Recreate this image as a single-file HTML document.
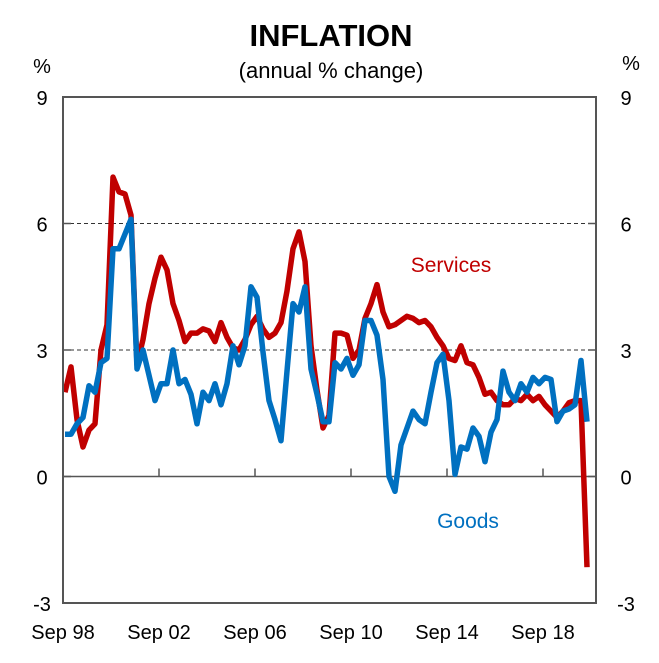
<!DOCTYPE html>
<html><head><meta charset="utf-8"><style>
body{margin:0;background:#fff;}
svg text{font-family:"Liberation Sans",Arial,sans-serif;}
</style></head><body>
<svg id="c" width="659" height="658" viewBox="0 0 659 658" xmlns="http://www.w3.org/2000/svg">
<text x="331" y="46" text-anchor="middle" font-size="31" font-weight="bold">INFLATION</text>
<text x="331" y="78" text-anchor="middle" font-size="22">(annual % change)</text>
<text x="42" y="73" text-anchor="middle" font-size="20">%</text>
<text x="631" y="70" text-anchor="middle" font-size="20">%</text>
<g id="grid"></g>
<g id="series"></g>
<rect x="63" y="97" width="533" height="506" fill="none" stroke="#555" stroke-width="2"/>
<text x="451" y="272" font-size="21" fill="#c00000" text-anchor="middle">Services</text>
<text x="468" y="528" font-size="21" fill="#0070c0" text-anchor="middle">Goods</text>
</svg>
<script>
const yTicks=[9,6,3,0,-3];
const xTickLabels=["Sep 98","Sep 02","Sep 06","Sep 10","Sep 14","Sep 18"];
const services=[2.0,2.6,1.35,0.7,1.1,1.25,3.0,3.6,7.1,6.75,6.7,6.2,2.65,3.25,4.1,4.7,5.2,4.9,4.1,3.7,3.2,3.4,3.4,3.5,3.45,3.2,3.65,3.3,3.05,3.0,3.25,3.6,3.8,3.5,3.3,3.4,3.65,4.4,5.4,5.8,5.1,3.1,2.05,1.15,1.45,3.4,3.4,3.35,2.8,3.0,3.75,4.1,4.55,3.9,3.55,3.6,3.7,3.8,3.75,3.65,3.7,3.55,3.3,3.1,2.8,2.75,3.1,2.7,2.65,2.35,1.95,2.0,1.8,1.7,1.7,1.85,1.8,1.95,1.8,1.9,1.7,1.55,1.4,1.55,1.75,1.8,1.8,-2.15];
const goods=[1.0,1.0,1.25,1.4,2.15,2.0,2.7,2.8,5.4,5.4,5.75,6.1,2.55,3.0,2.4,1.8,2.2,2.2,3.0,2.2,2.3,1.95,1.25,2.0,1.8,2.2,1.7,2.2,3.1,2.65,3.1,4.5,4.25,2.95,1.8,1.35,0.85,2.5,4.1,3.9,4.5,2.55,1.95,1.3,1.3,2.7,2.55,2.8,2.4,2.65,3.7,3.7,3.35,2.3,0.0,-0.35,0.75,1.15,1.55,1.35,1.25,2.0,2.7,2.9,1.8,0.05,0.7,0.65,1.15,0.95,0.35,1.05,1.35,2.5,2.0,1.8,2.2,2.0,2.35,2.2,2.35,2.3,1.3,1.55,1.6,1.7,2.75,1.3];
const NS='http://www.w3.org/2000/svg';
const x0=63,x1=596,yTop=97,yBot=603,ymin=-3,ymax=9;
const step=6.0;
function xs(i){return 65+i*step;}
function ys(v){return yTop+(ymax-v)/(ymax-ymin)*(yBot-yTop);}
const grid=document.getElementById('grid');
yTicks.forEach(t=>{
  const y=ys(t);
  if(t===6||t===3){
    const l=document.createElementNS(NS,'line');
    l.setAttribute('x1',x0);l.setAttribute('x2',x1);l.setAttribute('y1',y);l.setAttribute('y2',y);
    l.setAttribute('stroke','#333');l.setAttribute('stroke-dasharray','4,3');l.setAttribute('stroke-width','1');
    
    
    grid.appendChild(l);
  }
  if(t===0){
    const l=document.createElementNS(NS,'line');
    l.setAttribute('x1',x0);l.setAttribute('x2',x1);l.setAttribute('y1',y);l.setAttribute('y2',y);
    l.setAttribute('stroke','#555');l.setAttribute('stroke-width','1.5');
    
    
    grid.appendChild(l);
  }
  [[x0,x0+8],[x1-8,x1]].forEach((p,k)=>{
    const tk=document.createElementNS(NS,'line');
    tk.setAttribute('x1',p[0]);tk.setAttribute('x2',p[1]);tk.setAttribute('y1',y);tk.setAttribute('y2',y);
    tk.setAttribute('stroke','#555');tk.setAttribute('stroke-width','1.5');
    
    
    grid.appendChild(tk);
  });
  const a=document.createElementNS(NS,'text');
  a.setAttribute('x',42);a.setAttribute('y',y+8);a.setAttribute('text-anchor','middle');a.setAttribute('font-size','20');
  a.textContent=t;
  
  
  grid.appendChild(a);
  const b=document.createElementNS(NS,'text');
  b.setAttribute('x',626);b.setAttribute('y',y+8);b.setAttribute('text-anchor','middle');b.setAttribute('font-size','20');
  b.textContent=t;
  
  
  grid.appendChild(b);
});
xTickLabels.forEach((lab,k)=>{
  const x=xs(k*16)-2;
  if(k>0){
    const tk=document.createElementNS(NS,'line');
    tk.setAttribute('x1',x);tk.setAttribute('x2',x);tk.setAttribute('y1',ys(0));tk.setAttribute('y2',ys(0)-8);
    tk.setAttribute('stroke','#555');tk.setAttribute('stroke-width','1.5');
    
    
    grid.appendChild(tk);
  }
  const t=document.createElementNS(NS,'text');
  t.setAttribute('x',x);t.setAttribute('y',639);t.setAttribute('text-anchor','middle');t.setAttribute('font-size','20');
  t.textContent=lab;
  
  
  grid.appendChild(t);
});
const sg=document.getElementById('series');
function drawLine(arr,color,name){
  const p=document.createElementNS(NS,'polyline');
  p.setAttribute('points',arr.map((v,i)=>xs(i).toFixed(1)+','+ys(v).toFixed(1)).join(' '));
  p.setAttribute('fill','none');p.setAttribute('stroke',color);p.setAttribute('stroke-width','5.5');
  p.setAttribute('stroke-linejoin','round');
  
  
  sg.appendChild(p);
}
drawLine(services,'#c00000','services-line');
drawLine(goods,'#0070c0','goods-line');
</script>
</body></html>
